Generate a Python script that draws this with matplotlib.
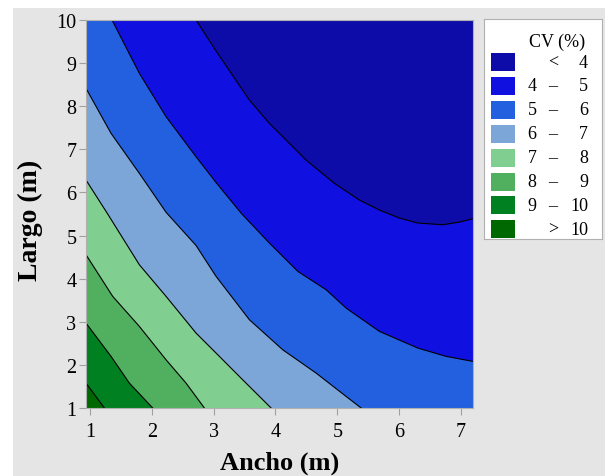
import numpy as np
import matplotlib.pyplot as plt
from matplotlib.patches import Rectangle

plt.rcParams['font.family'] = ['Liberation Serif', 'DejaVu Serif']

# CV (%) boundaries, (ancho, largo) points per level
levels = [4, 5, 6, 7, 8, 9, 10]
band_colors = ['#0e0ca8', '#1010e0', '#2360e0', '#7ca6d8',
               '#80ce90', '#50b060', '#008020', '#006800']

cv4_x = [2.715, 3.039, 3.578, 3.901, 4.495, 4.953, 5.358, 5.681, 6.005, 6.303, 6.707, 6.976, 7.195]
cv4_y = [10.0, 9.281, 8.144, 7.603, 6.752, 6.211, 5.824, 5.592, 5.406, 5.290, 5.251, 5.313, 5.390]
cv5_x = [1.356, 1.798, 2.230, 2.715, 3.039, 3.443, 3.901, 4.361, 4.819, 5.142, 5.412, 5.681, 6.303, 6.761, 7.195]
cv5_y = [10.0, 8.763, 7.757, 6.828, 6.230, 5.522, 4.826, 4.169, 3.743, 3.318, 3.047, 2.777, 2.390, 2.197, 2.081]
cv6_x = [0.935, 1.340, 1.798, 2.230, 2.715, 3.039, 3.578, 4.118, 4.657, 5.142, 5.385]
cv6_y = [8.415, 7.371, 6.443, 5.540, 4.770, 4.053, 3.047, 2.350, 1.810, 1.269, 1.0]
cv7_x = [0.935, 1.286, 1.798, 2.230, 2.715, 3.039, 3.470, 3.929]
cv7_y = [6.288, 5.500, 4.323, 3.589, 2.738, 2.274, 1.654, 1.0]
cv8_x = [0.935, 1.367, 1.798, 2.230, 2.553, 2.850]
cv8_y = [4.555, 3.589, 2.893, 2.118, 1.578, 1.0]
cv9_x = [0.935, 1.340, 1.636, 2.014]
cv9_y = [2.970, 2.197, 1.578, 1.0]
cv10_x = [0.935, 1.232]
cv10_y = [1.578, 1.0]

curves = [(cv4_x, cv4_y), (cv5_x, cv5_y), (cv6_x, cv6_y), (cv7_x, cv7_y),
          (cv8_x, cv8_y), (cv9_x, cv9_y), (cv10_x, cv10_y)]

x0, x1 = 0.935, 7.195
y0, y1 = 1, 10

fig = plt.figure(figsize=(6.05, 4.77), dpi=100)
fig.patches.append(Rectangle((13 / 605, 0), 1, (477 - 9) / 477, transform=fig.transFigure,
                             facecolor='#e5e5e5', edgecolor='none', zorder=-10))

ax = fig.add_axes([86 / 605, 68 / 477, 387 / 605, 388 / 477])
ax.set_facecolor(band_colors[0])

# each band painted over the lower-left side of its boundary
for (cx, cy), col in zip(curves, band_colors[1:]):
    cx = np.asarray(cx)
    cy = np.asarray(cy)
    ax.fill(np.r_[cx, cx[-1], x0, x0], np.r_[cy, y0, y0, cy[0]],
            color=col, lw=0, zorder=1)
for cx, cy in curves:
    ax.plot(cx, cy, color='black', lw=0.8, zorder=2)

ax.set_xlim(x0, x1)
ax.set_ylim(y0, y1)
ax.set_xticks(range(1, 8))
ax.set_yticks(range(1, 11))
ax.tick_params(length=5, width=0.8, color='#a0a0a0', labelsize=14.5, pad=2)
ax.tick_params(axis='x', pad=5)
for s in ax.spines.values():
    s.set_color('#b0b0b0')
    s.set_linewidth(0.8)
ax.set_xlabel('Ancho (m)', fontsize=19, fontweight='bold', labelpad=7)
ax.set_ylabel('Largo (m)', fontsize=20, fontweight='bold', labelpad=10)
ax.yaxis.set_label_coords(-0.11, 0.485)

# legend drawn by hand in pixel units
lax = fig.add_axes([484 / 605, (477 - 240) / 477, 118 / 605, 220 / 477])
lax.set_xlim(484, 602)
lax.set_ylim(240, 20)
lax.set_xticks([])
lax.set_yticks([])
for s in lax.spines.values():
    s.set_color('#b0b0b0')
    s.set_linewidth(0.8)
lax.text(557, 42, 'CV (%)', fontsize=13, ha='center', va='center')
lo = [None] + levels
hi = levels + [None]
for i, col in enumerate(band_colors):
    yc = 63 + i * 23.9
    lax.add_patch(Rectangle((491, yc - 9), 24, 18, facecolor=col, edgecolor='none'))
    if lo[i] is None:
        lax.text(553, yc, '<', fontsize=13, ha='center', va='center')
        lax.text(588, yc, str(hi[i]), fontsize=13, ha='right', va='center')
    elif hi[i] is None:
        lax.text(553, yc, '>', fontsize=13, ha='center', va='center')
        lax.text(588, yc, str(lo[i]), fontsize=13, ha='right', va='center')
    else:
        lax.text(532, yc, str(lo[i]), fontsize=13, ha='center', va='center')
        lax.text(553, yc, '\u2013', fontsize=13, ha='center', va='center')
        lax.text(588, yc, str(hi[i]), fontsize=13, ha='right', va='center')

fig.savefig('out.png', dpi=100)
